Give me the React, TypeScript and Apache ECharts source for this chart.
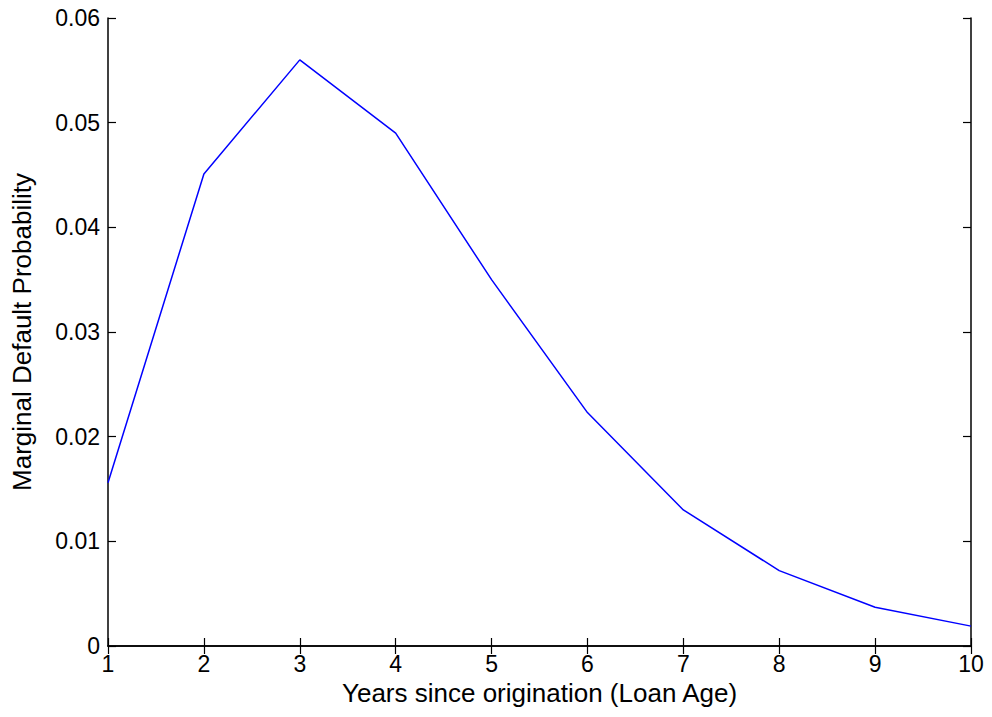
import React, { useEffect, useRef } from "react";
import * as echarts from "echarts";

// Loan age in years and the marginal default probability for each year
const loanAge = [1, 2, 3, 4, 5, 6, 7, 8, 9, 10];
const marginalPD = [0.0156, 0.0451, 0.056, 0.049, 0.035, 0.0223, 0.013, 0.0072, 0.0037, 0.0019];

const xTitle = "Years since origination (Loan Age)";
const yTitle = "Marginal Default Probability";

const FONT = "Liberation Sans, Arial, sans-serif";

export default function App() {
  const ref = useRef<HTMLDivElement>(null);

  useEffect(() => {
    if (!ref.current) return;
    const chart = echarts.init(ref.current, undefined, { renderer: "svg" });

    const frameAxisLine = { show: true, lineStyle: { color: "#000", width: 1.5 } };
    const frameTick = { show: true, inside: true, length: 8, lineStyle: { color: "#000", width: 1.2 } };

    chart.setOption({
      animation: false,
      backgroundColor: "#fff",
      grid: { left: 108, right: 21, top: 18, bottom: 71, outerBoundsMode: "none", containLabel: false },
      xAxis: [
        {
          type: "value",
          min: 1,
          max: 10,
          interval: 1,
          name: xTitle,
          nameLocation: "middle",
          nameGap: 33,
          nameTextStyle: { color: "#000", fontSize: 26, fontFamily: FONT },
          axisLine: frameAxisLine,
          axisTick: frameTick,
          axisLabel: { color: "#000", fontSize: 23, fontFamily: FONT, margin: 6 },
          splitLine: { show: false },
        },
        {
          type: "value",
          position: "top",
          min: 1,
          max: 10,
          interval: 1,
          axisLine: frameAxisLine,
          axisTick: frameTick,
          axisLabel: { show: false },
          splitLine: { show: false },
        },
      ],
      yAxis: [
        {
          type: "value",
          min: 0,
          max: 0.06,
          interval: 0.01,
          name: yTitle,
          nameLocation: "middle",
          nameGap: 73,
          nameTextStyle: { color: "#000", fontSize: 26, fontFamily: FONT },
          axisLine: frameAxisLine,
          axisTick: frameTick,
          axisLabel: { color: "#000", fontSize: 23, fontFamily: FONT, margin: 8 },
          splitLine: { show: false },
        },
        {
          type: "value",
          position: "right",
          min: 0,
          max: 0.06,
          interval: 0.01,
          axisLine: frameAxisLine,
          axisTick: frameTick,
          axisLabel: { show: false },
          splitLine: { show: false },
        },
      ],
      series: [
        {
          type: "line",
          data: loanAge.map((x, i) => [x, marginalPD[i]]),
          showSymbol: false,
          lineStyle: { color: "#0000ff", width: 1.5 },
          clip: false,
        },
      ],
    });

    return () => chart.dispose();
  }, []);

  return (
    <div
      ref={ref}
      style={{ position: "absolute", left: 0, top: 0, width: 992, height: 717, background: "#fff" }}
    />
  );
}
